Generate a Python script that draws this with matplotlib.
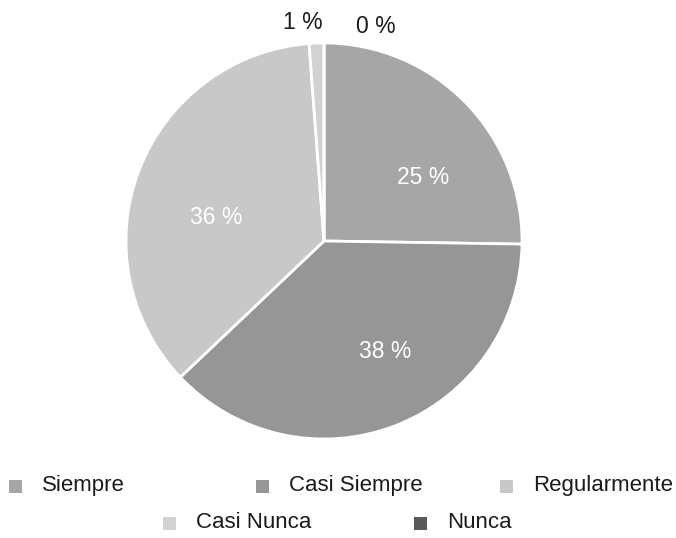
import matplotlib.pyplot as plt
from matplotlib.patches import Rectangle

plt.rcParams['font.family'] = ['Liberation Sans', 'DejaVu Sans']

labels = ['Siempre', 'Casi Siempre', 'Regularmente', 'Casi Nunca', 'Nunca']
values = [25.2, 37.6, 35.8, 1.2, 0.0]
colors = ['#a6a6a6', '#969696', '#c8c8c8', '#d2d2d2', '#595959']

W, H = 676, 538
fig = plt.figure(figsize=(W / 100, H / 100), dpi=100)
ax = fig.add_axes([126/W, 99/H, 396/W, 396/H])

wedges, texts, autotexts = ax.pie(values, colors=colors, startangle=90, counterclock=False,
                                  autopct='%.0f %%', pctdistance=0.6, radius=1,
                                  wedgeprops=dict(edgecolor='white', linewidth=2),
                                  textprops=dict(fontsize=16.5))
# label spots like the original (small slices outside, above)
label_pos = [(0.50, 0.32), (0.31, -0.56), (-0.545, 0.12), (-0.105, 1.105), (0.26, 1.085)]
for t, p in zip(autotexts, label_pos):
    t.set_position(p)
for t in autotexts[:3]:
    t.set_color('white')
for t in autotexts[3:]:
    t.set_color('#1a1a1a')
ax.set_xlim(-1, 1)
ax.set_ylim(-1, 1)
ax.set_aspect('equal')

# legend drawn by hand, two rows, uneven spacing like the source
leg_x = [15, 262, 506, 169, 420]
leg_y = [486, 486, 486, 523, 523]
for lab, c, x, y in zip(labels, colors, leg_x, leg_y):
    fig.add_artist(Rectangle(((x - 6.5) / W, 1 - (y + 6.5) / H), 13 / W, 13 / H,
                             transform=fig.transFigure, facecolor=c, edgecolor='none'))
    fig.text((x + 27) / W, 1 - y / H, lab, fontsize=16, va='center', ha='left', color='#1a1a1a')

fig.savefig('out.png', dpi=100, facecolor='white')
